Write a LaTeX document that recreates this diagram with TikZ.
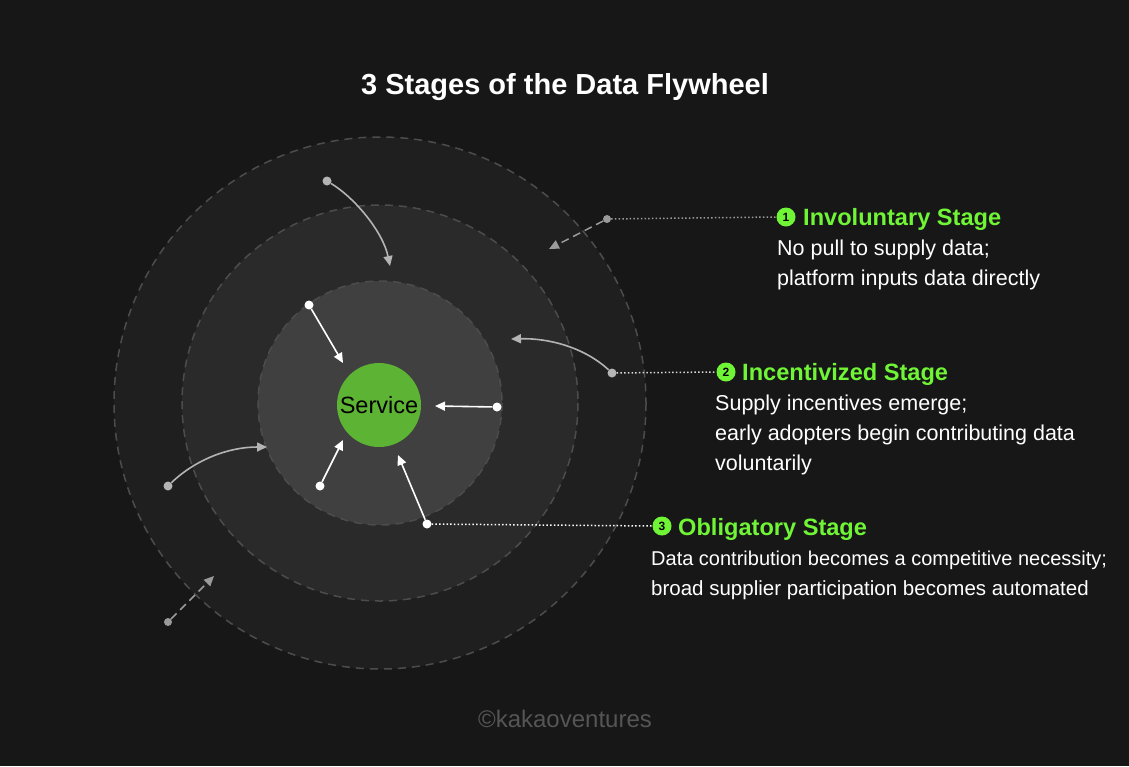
\documentclass[tikz,border=0pt]{standalone}
\usepackage{fontspec}
\setmainfont{Liberation Sans}
\usetikzlibrary{arrows.meta}
\definecolor{bg}{HTML}{171717}
\definecolor{ringA}{HTML}{1F1F1F}
\definecolor{ringB}{HTML}{2A2A2A}
\definecolor{ringC}{HTML}{404040}
\definecolor{ringline}{HTML}{4C4C4C}
\definecolor{stagegreen}{HTML}{70F536}
\definecolor{servicegreen}{HTML}{5DB333}
\definecolor{softgray}{HTML}{B4B4B4}
\definecolor{dashgray}{HTML}{9A9A9A}
\definecolor{markgray}{HTML}{555555}
\tikzset{
  ring/.style={draw=ringline, line width=1.5pt, dash pattern=on 8pt off 6pt},
  wdot/.style={circle, fill=white, inner sep=0pt, minimum size=9pt},
  gdot/.style={circle, fill=softgray, inner sep=0pt, minimum size=9pt},
  ddot/.style={circle, fill=dashgray, inner sep=0pt, minimum size=8pt},
  tip/.style={-{Triangle[length=10pt,width=9pt]}},
  warrow/.style={tip, draw=white, line width=1.6pt},
  garrow/.style={tip, draw=softgray, line width=1.6pt},
  darrow/.style={tip, draw=dashgray, line width=1.5pt, dash pattern=on 8pt off 5pt},
  dotline/.style={line width=1.5pt, dash pattern=on 1.5pt off 2.2pt},
  numdot/.style={circle, fill=stagegreen, inner sep=0pt, minimum size=19pt, font=\bfseries\fontsize{12}{12}\selectfont, text=black},
  stagetitle/.style={anchor=base west, inner sep=0pt, text=stagegreen, font=\bfseries\fontsize{23.6}{28}\selectfont},
  desc/.style={anchor=base west, inner sep=0pt, text=white, font=\fontsize{21.5}{26}\selectfont},
}
\begin{document}
\begin{tikzpicture}[x=1pt,y=-1pt]
\useasboundingbox (0,0) rectangle (1129,766);
\fill[bg] (0,0) rectangle (1129,766);
% rings
\fill[ringA] (380,403) circle (266);
\draw[ring] (380,403) circle (266);
\fill[ringB] (380,403) circle (198);
\draw[ring] (380,403) circle (198);
\fill[ringC] (380,403) circle (122);
\draw[ring] (380,403) circle (122);
\node[circle, fill=servicegreen, minimum size=84pt, inner sep=0pt, font=\fontsize{23.5}{28}\selectfont, text=black] (service) at (379,405) {Service};
% title
\node[anchor=base, inner sep=0pt, text=white, font=\bfseries\fontsize{29}{34}\selectfont] (title) at (565,94) {3 Stages of the Data Flywheel};
\node[anchor=base, inner sep=0pt, text=markgray, font=\fontsize{24}{28}\selectfont] (mark) at (565,727) {©kakaoventures};
% inner arrows
\node[wdot] (d1) at (309,305) {};
\coordinate (t1) at (343,363);
\draw[warrow] (d1) -- (t1);
\node[wdot] (d2) at (497,407) {};
\coordinate (t2) at (435,406);
\draw[warrow] (d2) -- (t2);
\node[wdot] (d3) at (320,486) {};
\coordinate (t3) at (343,440);
\draw[warrow] (d3) -- (t3);
\node[wdot] (d4) at (427,524) {};
\coordinate (t4) at (398,455);
\draw[warrow] (d4) -- (t4);
% middle arrows
\node[gdot] (g1) at (327,181) {};
\coordinate (u1) at (390,266);
\draw[garrow] (g1) .. controls (355,198) and (383,232) .. (u1);
\node[gdot] (g2) at (168,486) {};
\coordinate (u2) at (267,447);
\draw[garrow] (g2) .. controls (195,460) and (228,447) .. (u2);
\node[gdot] (g3) at (612,373) {};
\coordinate (u3) at (511,339);
\draw[garrow] (g3) .. controls (585,348) and (550,338) .. (u3);
% outer dashed arrows
\node[ddot] (e1) at (607,219) {};
\coordinate (v1) at (549,249);
\draw[darrow] (e1) -- (v1);
\node[ddot] (e2) at (168,622) {};
\coordinate (v2) at (214,576);
\draw[darrow] (e2) -- (v2);
% stage labels
\node[numdot] (n1) at (786,217) {1};
\node[numdot] (n2) at (726,372) {2};
\node[numdot] (n3) at (662,526) {3};
\draw[dotline, draw=dashgray] (e1) -- (n1.west);
\draw[dotline, draw=white!85!black] (g3) -- (n2.west);
\draw[dotline, draw=white] (d4) -- (n3.west);
\node[stagetitle] (s1) at (803,225.5) {Involuntary Stage};
\node[desc] (s1a) at (777,255) {No pull to supply data;};
\node[desc] (s1b) at (777,285) {platform inputs data directly};
\node[stagetitle] (s2) at (742,380.5) {Incentivized Stage};
\node[desc] (s2a) at (715,410) {Supply incentives emerge;};
\node[desc] (s2b) at (715,440) {early adopters begin contributing data};
\node[desc] (s2c) at (715,470) {voluntarily};
\node[stagetitle] (s3) at (678,535.5) {Obligatory Stage};
\node[desc, font=\fontsize{20}{26}\selectfont] (s3a) at (651,565) {Data contribution becomes a competitive necessity;};
\node[desc, font=\fontsize{20.5}{26}\selectfont] (s3b) at (651,595) {broad supplier participation becomes automated};
\end{tikzpicture}
\end{document}
